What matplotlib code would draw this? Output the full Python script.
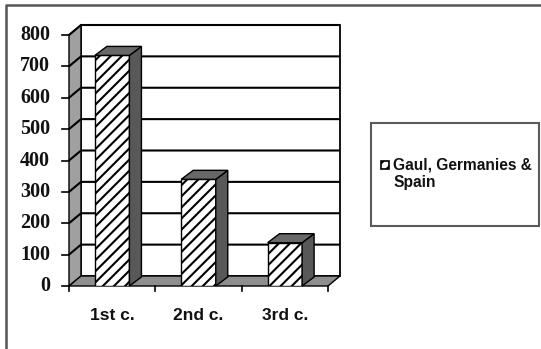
import matplotlib
matplotlib.use("Agg")
import matplotlib.pyplot as plt
from matplotlib.patches import Polygon, Rectangle
from matplotlib.lines import Line2D

# Data
categories = ["1st c.", "2nd c.", "3rd c."]
values = [735, 340, 138]
series_name = ["Gaul, Germanies &", "Spain"]
y_ticks = [0, 100, 200, 300, 400, 500, 600, 700, 800]

W, H = 541, 349
plt.rcParams["hatch.color"] = "black"
plt.rcParams["hatch.linewidth"] = 1.5

fig = plt.figure(figsize=(W / 100, H / 100), dpi=100)
ax = fig.add_axes([69 / W, (H - 286) / H, (328 - 69) / W, (286 - 35) / H])
ax.set_xlim(0, len(categories))
ax.set_ylim(0, y_ticks[-1])
ax.axis("off")

DX, DY = 12, 10      # depth of floor / walls, in pixels
BDX, BDY = 12, 9     # depth of the columns, in pixels


def shift(x, y, dx=DX, dy=DY):
    px, py = ax.transData.transform((x, y))
    return tuple(ax.transData.inverted().transform((px + dx, py + dy)))


xmax, ymax = len(categories), y_ticks[-1]

# back wall
bl = shift(0, 0)
tr = shift(xmax, ymax)
ax.add_patch(Rectangle(bl, tr[0] - bl[0], tr[1] - bl[1], facecolor="white",
                       edgecolor="black", lw=1.3, zorder=1, clip_on=False))
# left wall
ax.add_patch(Polygon([(0, 0), (0, ymax), shift(0, ymax), shift(0, 0)],
                     closed=True, facecolor="#a0a0a0", edgecolor="black",
                     lw=1.0, zorder=1.5, clip_on=False))
# floor
ax.add_patch(Polygon([(0, 0), (xmax, 0), shift(xmax, 0), shift(0, 0)],
                     closed=True, facecolor="#8e8e8e", edgecolor="black",
                     lw=1.0, zorder=1.5, clip_on=False))

# gridlines and value ticks
for v in y_ticks:
    if v > 0:
        sx, sy = shift(0, v)
        ex, ey = shift(xmax, v)
        ax.plot([0, sx, ex], [v, sy, ey], color="black", lw=1.5,
                zorder=2, clip_on=False, solid_capstyle="butt")
    tx = shift(0, v, -7, 0)[0]
    ax.plot([tx, 0], [v, v], color="black", lw=1.2, zorder=2, clip_on=False)
    ax.annotate(str(v), xy=(0, v), xytext=(-19, 0), textcoords="offset pixels",
                ha="right", va="center", fontsize=14.5, fontweight="bold",
                family="Liberation Serif", color="#111111")

# category ticks and labels
for i in range(xmax + 1):
    by = shift(i, 0, 0, -5)[1]
    ax.plot([i, i], [0, by], color="black", lw=1.2, zorder=2, clip_on=False)
for i, c in enumerate(categories):
    ax.annotate(c, xy=(i + 0.5, 0), xytext=(0, -29), textcoords="offset pixels",
                ha="center", va="center", fontsize=12.5, fontweight="bold",
                family="Liberation Sans", color="#111111")

# columns
bw = 0.4
xs = [i + 0.5 for i in range(len(categories))]
ax.bar(xs, values, width=bw, color="white", edgecolor="black", hatch="///",
       lw=1.0, zorder=3)
for x, v in zip(xs, values):
    r = x + bw / 2
    l = x - bw / 2
    ax.add_patch(Polygon([(r, 0), (r, v), shift(r, v, BDX, BDY),
                          shift(r, 0, BDX, BDY)], closed=True,
                         facecolor="#585858", edgecolor="black", lw=1.0,
                         zorder=3, clip_on=False))
    ax.add_patch(Polygon([(l, v), (r, v), shift(r, v, BDX, BDY),
                          shift(l, v, BDX, BDY)], closed=True,
                         facecolor="#686868", edgecolor="black", lw=1.0,
                         zorder=3, clip_on=False))

# legend
ft = fig.transFigure
fig.add_artist(Rectangle((371 / W, (H - 226) / H), (539 - 371) / W,
                         (226 - 123) / H, transform=ft, facecolor="white",
                         edgecolor="#5a5a5a", lw=1.5))
fig.add_artist(Rectangle((381 / W, (H - 169) / H), 8 / W, 8 / H, transform=ft,
                         facecolor="white", edgecolor="black", hatch="///",
                         lw=1.2))
fig.text(393 / W, (H - 165) / H, series_name[0], transform=ft, ha="left",
         va="center", fontsize=11.2, fontweight="bold",
         family="Liberation Sans", color="#111111")
fig.text(393 / W, (H - 183) / H, series_name[1], transform=ft, ha="left",
         va="center", fontsize=11.2, fontweight="bold",
         family="Liberation Sans", color="#111111")

# chart-area border
fig.add_artist(Line2D([5.5 / W, 5.5 / W, 1.0], [0.0, (H - 5) / H, (H - 5) / H],
                      transform=ft, color="#555555", lw=1.8))

fig.savefig("out.png", dpi=100, facecolor="white")
